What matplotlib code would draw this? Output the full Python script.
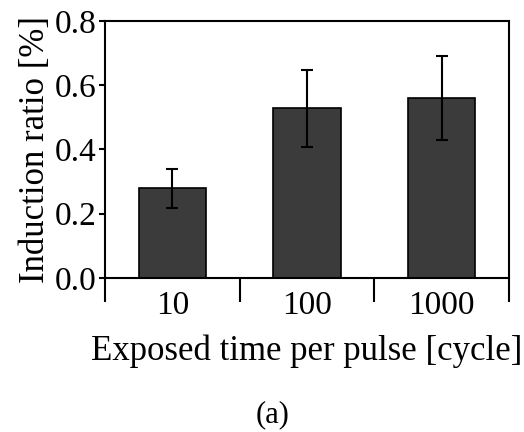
import matplotlib
matplotlib.use("Agg")
import matplotlib.pyplot as plt

# values
categories = ["10", "100", "1000"]
ratio = [0.279, 0.528, 0.561]
ratio_err = [0.060, 0.120, 0.130]
yticks = [0.0, 0.2, 0.4, 0.6, 0.8]

plt.rcParams["font.family"] = ["Liberation Serif", "DejaVu Serif"]

fig = plt.figure(figsize=(5.24, 4.32), dpi=100)
ax = fig.add_axes([0.2004, 0.3565, 0.771, 0.595])

x = list(range(len(categories)))
ax.bar(x, ratio, width=0.5, color="#3b3b3b", edgecolor="black", linewidth=1.2,
       zorder=2)
ax.errorbar(x, ratio, yerr=ratio_err, fmt="none", ecolor="black", elinewidth=1.5,
            capsize=4, capthick=1.5, zorder=3)

ax.set_xlim(-0.5, len(categories) - 0.5)
ax.set_ylim(0, 0.8)
ax.set_yticks(yticks)
ax.set_yticklabels([f"{v:.1f}" for v in yticks])

ax.set_xticks(x)
ax.set_xticklabels(categories)
ax.set_xticks([i - 0.5 for i in range(len(categories) + 1)], minor=True)
ax.tick_params(axis="x", which="major", length=0, pad=9, labelsize=24)
ax.tick_params(axis="x", which="minor", length=17, width=1.5, direction="out")
ax.tick_params(axis="y", length=4, width=1.5, direction="out", pad=2, labelsize=24)

for s in ax.spines.values():
    s.set_linewidth(1.5)

ax.set_xlabel("Exposed time per pulse [cycle]", fontsize=25, labelpad=10)
ax.set_ylabel("Induction ratio [%]", fontsize=25, labelpad=2)

fig.text(0.52, 0.04, "(a)", ha="center", va="center", fontsize=22)

fig.savefig("out.png", dpi=100)
